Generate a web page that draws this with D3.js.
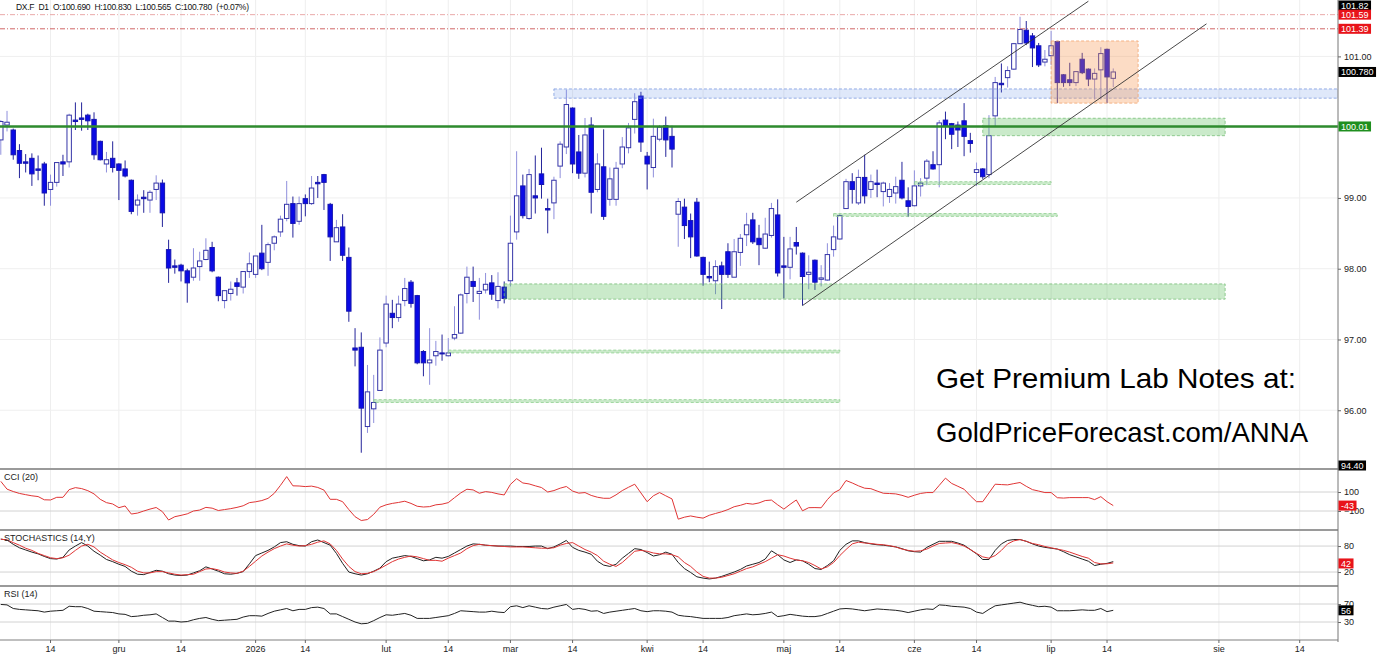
<!DOCTYPE html>
<html>
<head>
<meta charset="UTF-8">
<title>DX.F D1</title>
<script src="https://cdn.jsdelivr.net/npm/d3@7"></script>
<style>
  body { margin: 0; background: #fff; }
  svg { display: block; font-family: "Liberation Sans", Arial, sans-serif; }
  .axis path { display: none; }
  .axis line { stroke: #666; }
  .axis text { fill: #222; font-size: 9px; font-family: "Liberation Sans", Arial, sans-serif; }
</style>
</head>
<body>
<svg id="chart" width="1387" height="658"></svg>
<script>
// daily bars, 2025-11-04 .. 2026-07-15
const opens = [99.82,100.03,99.96,99.67,99.51,99.56,99.41,99.48,99.12,99.22,99.51,99.51,100.10,100.13,100.17,100.11,99.80,99.48,99.56,99.48,
  99.41,99.25,98.90,99.01,98.97,99.12,99.21,98.27,98.04,98.05,97.97,97.88,98.03,98.13,98.30,97.88,97.55,97.65,97.80,97.74,
  97.96,97.92,98.22,98.09,98.36,98.52,98.71,98.92,98.67,98.99,98.92,99.22,99.33,98.91,98.38,98.59,98.16,96.88,96.89,95.77,
  96.02,96.28,96.95,97.37,97.31,97.55,97.81,97.62,96.83,96.67,96.77,96.81,96.77,97.02,97.09,97.65,97.82,97.65,97.70,97.80,
  97.55,97.74,97.83,98.52,99.17,98.71,99.03,99.34,98.85,98.93,99.45,99.72,100.27,99.65,99.35,100.03,99.12,99.44,98.98,98.98,
  99.48,99.71,100.11,100.44,99.59,99.43,99.83,100.02,99.87,98.77,98.87,98.68,98.94,98.16,97.89,97.83,98.04,98.24,97.88,98.23,
  98.48,98.69,98.43,98.29,98.47,98.76,98.04,98.02,98.37,98.22,97.92,98.12,97.85,97.84,98.27,98.42,98.85,99.23,98.93,99.29,
  99.12,99.21,99.09,99.02,99.07,99.25,98.96,98.89,99.17,99.28,99.47,99.47,100.10,100.05,100.03,100.09,99.81,99.36,99.41,99.33,
  100.16,100.62,100.70,100.82,101.18,101.37,101.29,101.15,100.92,101.01,101.21,100.74,100.67,100.63,100.96,100.82,100.68,100.81,101.10,100.69];
const highs = [100.10,100.23,99.98,99.76,99.62,99.63,99.60,99.51,99.33,99.50,99.61,100.19,100.35,100.35,100.19,100.21,99.81,99.65,99.80,99.49,
  99.53,99.26,99.05,99.11,99.11,99.32,99.26,98.41,98.13,98.07,98.00,98.29,98.24,98.43,98.38,97.89,97.69,97.82,97.87,97.96,
  98.23,98.18,98.62,98.37,98.47,98.75,99.24,99.02,99.02,99.05,99.31,99.31,99.34,98.93,98.69,98.77,98.30,97.16,97.10,96.64,
  96.50,97.03,97.62,97.56,97.62,97.87,97.84,97.63,96.85,97.16,96.98,97.07,97.02,97.47,97.65,98.03,98.03,97.87,97.94,97.91,
  97.95,97.82,98.75,99.66,99.33,99.41,99.60,99.71,98.99,99.30,99.80,100.53,100.28,99.89,100.13,100.14,99.63,99.97,99.43,99.51,
  99.86,100.06,100.48,100.50,99.65,100.12,100.03,100.15,100.02,99.00,98.99,98.78,99.00,98.17,98.10,98.12,98.10,98.36,98.42,98.49,
  98.79,98.79,98.62,98.72,98.93,98.98,98.45,98.45,98.59,98.23,98.19,98.13,98.05,98.36,98.61,98.77,99.27,99.35,99.40,99.61,
  99.33,99.40,99.23,99.21,99.30,99.51,99.15,99.39,99.28,99.55,99.66,100.10,100.22,100.06,100.08,100.34,99.92,99.50,99.42,100.17,
  100.71,100.90,100.86,101.19,101.56,101.50,101.33,101.19,101.09,101.36,101.22,100.75,100.91,100.79,101.05,100.83,100.83,101.13,101.11,100.83];
const lows = [99.61,99.94,99.54,99.28,99.36,99.17,99.25,98.89,98.89,99.16,99.31,99.43,99.96,99.95,99.96,99.54,99.53,99.36,99.36,98.97,
  99.29,98.77,98.75,98.79,98.79,98.97,98.59,97.80,97.93,97.82,97.52,97.83,97.83,98.12,97.95,97.54,97.44,97.55,97.62,97.65,
  97.87,97.87,97.98,97.90,98.26,98.45,98.67,98.44,98.62,98.74,98.90,99.00,98.83,98.11,98.38,98.11,97.25,96.62,95.40,95.68,
  95.82,96.28,96.89,97.16,97.25,97.47,97.45,96.65,96.48,96.36,96.63,96.70,96.76,96.99,97.08,97.51,97.53,97.28,97.65,97.56,
  97.44,97.51,97.75,98.41,98.71,98.69,98.78,98.99,98.50,98.70,99.28,99.62,99.35,99.27,99.29,98.78,99.08,98.69,98.89,98.89,
  99.42,99.63,99.91,99.65,99.12,99.29,99.80,99.58,99.43,98.31,98.42,98.15,98.17,97.76,97.81,97.64,97.43,97.87,97.88,98.04,
  98.32,98.35,98.05,98.28,98.44,97.89,97.58,97.85,98.20,97.48,97.71,97.70,97.75,97.83,98.17,98.41,98.85,98.92,98.90,98.92,
  99.00,99.01,98.88,98.93,98.92,98.98,98.73,98.88,99.02,99.18,99.40,99.15,99.83,99.69,99.72,99.59,99.64,99.17,99.27,99.28,
  100.01,100.49,100.56,100.81,101.18,101.16,100.85,100.85,100.86,100.88,100.34,100.57,100.58,100.58,100.75,100.58,100.39,100.39,100.34,100.565];
const closes = [100.08,100.07,99.61,99.49,99.49,99.34,99.39,99.07,99.22,99.50,99.48,100.17,100.08,100.11,100.09,99.61,99.54,99.54,99.43,99.39,
  99.31,98.81,98.97,98.99,99.08,99.21,98.79,98.01,98.02,97.97,97.80,98.01,98.11,98.26,97.97,97.62,97.69,97.71,97.75,97.96,
  98.07,98.18,98.00,98.34,98.45,98.70,98.91,98.64,98.92,98.92,99.14,99.20,99.22,98.45,98.58,98.19,97.40,96.85,96.03,96.26,
  96.11,96.85,97.50,97.31,97.50,97.72,97.51,96.67,96.67,96.71,96.83,96.80,96.81,97.07,97.63,97.88,97.75,97.68,97.78,97.64,
  97.75,97.58,98.36,99.03,98.75,99.33,99.00,99.19,98.83,99.25,99.76,100.32,99.48,99.35,99.89,99.08,99.48,98.74,99.27,99.42,
  99.72,99.99,100.36,99.79,99.48,99.87,100.00,99.82,99.69,98.95,98.61,98.45,98.18,97.92,97.87,98.03,97.92,97.92,98.24,98.43,
  98.62,98.38,98.34,98.49,98.85,97.94,98.02,98.28,98.32,97.89,97.95,97.81,97.87,98.20,98.45,98.75,99.23,99.12,99.29,99.03,
  99.23,99.19,99.21,99.12,99.16,99.00,98.88,99.17,99.21,99.52,99.41,100.06,100.02,99.90,99.96,99.87,99.77,99.40,99.30,99.88,
  100.63,100.60,100.80,101.18,101.38,101.19,101.12,100.88,100.96,101.15,100.63,100.63,100.63,100.785,100.77,100.68,100.76,101.04,100.71,100.78];

// indicators, one value per bar
const cci = [212,130,105,85,72,60,52,18,16,44,44,125,146,136,114,80,23,-12,-26,-65,
  -47,-132,-122,-100,-80,-63,-107,-195,-160,-146,-130,-100,-90,-62,-70,-95,-85,-75,-62,-45,
  -12,-3,10,33,86,170,262,165,163,157,162,148,120,23,23,-2,-85,-160,-200,-190,
  -135,-60,-35,-20,-10,3,-20,-50,-58,-54,-35,-28,-12,40,90,129,122,87,104,96,
  80,69,180,240,195,185,165,147,100,115,140,158,110,88,94,64,45,34,34,70,
  115,150,182,90,-2,60,94,60,27,-186,-165,-152,-165,-175,-145,-126,-108,-85,-55,-40,
  -20,-28,-15,10,15,-35,-80,-30,16,-98,-65,-64,-66,20,90,125,221,195,165,140,
  135,110,87,84,80,65,44,66,85,94,94,170,246,190,160,129,60,-2,-2,90,
  182,178,175,188,200,160,125,110,94,94,40,36,41,41,41,41,20,51,-2,-43];
const stochK = [96,94,84,76,71,66,62,56,51,50,54,71,80,88,80,68,59,49,44,38,
  33,22,15,14,19,24,22,16,13,12,13,18,23,32,27,22,16,15,17,21,
  39,58,64,70,78,88,90,84,81,80,90,94,88,82,63,40,20,16,13,16,
  22,29,44,52,55,58,56,51,46,48,54,52,56,64,72,80,85,84,82,81,
  80,80,80,79,79,79,80,80,74,78,85,93,77,70,66,61,45,36,33,38,
  52,63,74,72,65,57,60,66,61,42,28,19,9,6,4,6,10,15,20,26,
  34,38,42,50,69,60,48,42,48,46,38,28,26,35,46,70,84,92,92,88,
  85,83,82,80,78,74,69,67,66,77,84,91,91,91,87,82,72,62,49,49,
  70,85,93,95,95,91,85,80,77,75,73,67,60,55,50,45,35,38,40,44];
const stochD = [96,94,88,82,75,70,63,58,53,51,53,59,70,80,84,78,66,57,48,42,
  37,31,22,18,18,21,21,18,15,13,14,15,21,27,28,25,20,18,17,22,
  33,45,57,66,74,80,85,82,80,81,84,89,92,85,70,50,33,21,16,17,
  21,28,36,44,50,54,57,55,51,47,47,45,52,58,64,74,81,84,82,81,
  80,79,78,78,78,77,76,75,75,76,82,86,88,80,72,66,58,45,38,33,
  42,55,68,70,68,64,62,62,60,55,42,33,20,10,6,6,8,12,16,22,
  28,32,38,44,52,60,57,52,48,46,42,35,27,32,42,58,72,85,89,87,
  86,84,83,81,78,73,70,68,69,73,80,86,87,88,85,80,72,63,55,52,
  58,70,85,92,95,91,86,83,79,76,73,70,66,61,56,52,42,39,39,41];
const rsi = [69,68,60,58,57,56,55,52,54,55,56,65,64,64,60,54,53,52,51,48,
  47,42,43,45,46,48,40,32,32,30,31,35,38,40,36,33,34,35,36,41,
  44,44,43,49,54,57,60,55,58,58,62,63,60,48,48,42,36,30,26,27,
  33,40,46,45,47,49,45,38,38,38,40,42,44,49,55,54,53,52,52,54,
  52,51,64,66,62,66,63,60,59,63,66,69,58,60,58,54,55,49,52,54,
  56,58,60,55,53,55,55,54,52,45,43,42,40,38,38,38,38,40,44,46,
  48,46,47,49,52,42,44,47,45,43,42,42,44,49,54,59,60,59,57,55,
  57,59,58,57,56,54,51,54,57,59,58,68,67,65,64,63,60,52,49,58,
  66,68,70,72,74,70,67,64,65,63,55,55,55,56,57,56,56,60,53,56];

// time axis labels (Polish month names)
const tickDates = ["2025-11-14","2025-12-01","2025-12-14","2026-01-01","2026-01-14","2026-02-01","2026-02-14",
  "2026-03-01","2026-03-14","2026-04-01","2026-04-14","2026-05-01","2026-05-14","2026-06-01","2026-06-14",
  "2026-07-01","2026-07-14","2026-08-01","2026-08-14"];
const tickLabels = ["14","gru","14","2026","14","lut","14","mar","14","kwi","14","maj","14","cze","14","lip","14","sie","14"];
const priceTicks = [101, 99, 98, 97, 96];
const priceGrid = [101, 100, 99, 98, 97, 96];

// drawn levels and zones (bar index, price)
const redLevels = [101.59, 101.39];
const greenLevel = 100.01;
const zoneStart = [89, 158, 81];
const zoneEnd = [215, 196, 196];
const zoneLow = [100.41, 99.88, 97.57];
const zoneHigh = [100.54, 100.126, 97.785];
const zoneKind = ["blue", "green", "green"];
const thinStart = [147, 134, 72, 60];
const thinEnd = [169, 170, 135, 135];
const thinLevel = [99.21, 98.76, 96.83, 96.13];
const boxStart = 169, boxEnd = 183, boxLow = 100.34, boxHigh = 101.218;
const channelUpper = [[128, 98.94], [175, 101.78]];
const channelLower = [[129, 97.48], [194, 101.46]];

// right-hand value tags
const tagValues = [101.82, 101.59, 101.39, 100.78, 100.01, 94.40];
const tagText = ["101.82", "101.59", "101.39", "100.780", "100.01", "94.40"];
const tagKind = ["black", "red", "red", "black", "green", "black"];

const W = 1387, plotR = 1338;
const mainTop = 0, mainBot = 469, cciTop = 469, cciBot = 530, stTop = 530, stBot = 586, rsiTop = 586, rsiBot = 640;
const tagColor = {black: "#000", red: "#e8141a", green: "#1f8f1f"};

const parse = d3.utcParse("%Y-%m-%d"), fmt = d3.utcFormat("%Y-%m-%d");
const holidays = ["2025-12-25", "2026-01-01"];
const tradingDays = d3.utcDay.range(parse("2025-11-04"), parse("2026-07-16"))
  .filter(d => d.getUTCDay() % 6 !== 0 && !holidays.includes(fmt(d)));
const futureDays = d3.utcDay.range(parse("2026-07-16"), parse("2026-08-21"));
const dates = tradingDays.concat(futureDays).map(fmt);

const x = d3.scaleBand().domain(dates).range([-2.3, 1340.1]).padding(0);
const xc = i => x(dates[i]) + x.bandwidth() / 2;
const y = d3.scaleLinear().domain([95.17, 101.797]).range([mainBot, mainTop]);
const yCci = d3.scaleLinear().domain([-100, 100]).range([511, 492]);
const ySt = d3.scaleLinear().domain([0, 100]).range([580.7, 537.4]);
const yRsi = d3.scaleLinear().domain([0, 100]).range([635.5, 590.5]);

const svg = d3.select("#chart");
const defs = svg.append("defs");
[["clipMain", mainTop, mainBot], ["clipCci", cciTop, cciBot], ["clipSt", stTop, stBot], ["clipRsi", rsiTop, rsiBot]]
  .forEach(([id, t, b]) => defs.append("clipPath").attr("id", id).append("rect")
    .attr("x", 0).attr("y", t).attr("width", plotR).attr("height", b - t));

// first bar on or after each label date
const tickPos = tickDates.map(t => dates.find(d => d >= t));

// vertical grid
svg.append("g").selectAll("line").data(tickPos).join("line")
  .attr("x1", d => x(d) + x.bandwidth() / 2).attr("x2", d => x(d) + x.bandwidth() / 2)
  .attr("y1", 0).attr("y2", rsiBot).attr("stroke", "#eeeeee");

const main = svg.append("g").attr("clip-path", "url(#clipMain)");
main.selectAll("line.hg").data(priceGrid).join("line").attr("class", "hg")
  .attr("x1", 0).attr("x2", plotR).attr("y1", d => y(d)).attr("y2", d => y(d)).attr("stroke", "#efefef");

// candles
const bars = d3.range(opens.length).map(i => ({i, o: opens[i], h: highs[i], l: lows[i], c: closes[i], up: closes[i] >= opens[i]}));
const bw = 4.4;
const cg = main.append("g");
cg.selectAll("line").data(bars).join("line")
  .attr("x1", d => xc(d.i)).attr("x2", d => xc(d.i))
  .attr("y1", d => y(d.h)).attr("y2", d => y(d.l))
  .attr("stroke", d => d.up ? "#8f8fdc" : "#24249a").attr("stroke-width", 1);
cg.selectAll("rect").data(bars).join("rect")
  .attr("x", d => xc(d.i) - bw / 2).attr("width", bw)
  .attr("y", d => y(Math.max(d.o, d.c)))
  .attr("height", d => Math.max(1, Math.abs(y(d.o) - y(d.c))))
  .attr("fill", d => d.up ? "#fff" : "#0a0ae6")
  .attr("stroke", d => d.up ? "#3535a8" : "#1515b0").attr("stroke-width", 1);

// zones
const zones = zoneStart.map((s, k) => ({s, e: zoneEnd[k], lo: zoneLow[k], hi: zoneHigh[k], kind: zoneKind[k]}));
main.selectAll("rect.zone").data(zones).join("rect").attr("class", "zone")
  .attr("x", d => xc(d.s)).attr("width", d => xc(d.e) - xc(d.s) + x.bandwidth())
  .attr("y", d => y(d.hi)).attr("height", d => y(d.lo) - y(d.hi))
  .attr("fill", d => d.kind === "blue" ? "rgba(110,150,230,0.22)" : "rgba(80,185,80,0.30)")
  .attr("stroke", d => d.kind === "blue" ? "#7d9be0" : "#79bf79")
  .attr("stroke-dasharray", "3,2").attr("stroke-width", 0.8);
const thin = thinStart.map((s, k) => ({s, e: thinEnd[k], v: thinLevel[k]}));
main.selectAll("rect.thin").data(thin).join("rect").attr("class", "thin")
  .attr("x", d => xc(d.s)).attr("width", d => xc(d.e) - xc(d.s))
  .attr("y", d => y(d.v + 0.02)).attr("height", d => y(d.v - 0.02) - y(d.v + 0.02))
  .attr("fill", "rgba(80,185,80,0.30)").attr("stroke", "#8fcf8f")
  .attr("stroke-dasharray", "3,2").attr("stroke-width", 0.8);
main.append("rect")
  .attr("x", xc(boxStart)).attr("width", xc(boxEnd) - xc(boxStart))
  .attr("y", y(boxHigh)).attr("height", y(boxLow) - y(boxHigh))
  .attr("fill", "rgba(245,150,80,0.33)").attr("stroke", "#f2a46e")
  .attr("stroke-dasharray", "3,2").attr("stroke-width", 0.8);

// levels
main.selectAll("line.red").data(redLevels).join("line").attr("class", "red")
  .attr("x1", 0).attr("x2", plotR).attr("y1", d => y(d)).attr("y2", d => y(d))
  .attr("stroke", (d, k) => k === 0 ? "#e8a0a0" : "#cc5555").attr("stroke-width", 0.9)
  .attr("stroke-dasharray", "5,2,1,2");
main.append("line").attr("x1", 0).attr("x2", plotR).attr("y1", y(greenLevel)).attr("y2", y(greenLevel))
  .attr("stroke", "#2e8b2e").attr("stroke-width", 2.4);

// trend channel
main.selectAll("line.ch").data([channelUpper, channelLower]).join("line").attr("class", "ch")
  .attr("x1", d => xc(d[0][0])).attr("y1", d => y(d[0][1]))
  .attr("x2", d => xc(d[1][0])).attr("y2", d => y(d[1][1]))
  .attr("stroke", "#333").attr("stroke-width", 0.9);

// promo text
svg.append("text").attr("x", 936).attr("y", 388).attr("font-size", 28).attr("fill", "#000")
  .attr("textLength", 360).attr("lengthAdjust", "spacingAndGlyphs").text("Get Premium Lab Notes at:");
svg.append("text").attr("x", 936).attr("y", 442).attr("font-size", 28).attr("fill", "#000")
  .attr("textLength", 372).attr("lengthAdjust", "spacingAndGlyphs").text("GoldPriceForecast.com/ANNA");

// header
const last = opens.length - 1;
const f3 = d3.format(".3f");
const chg = (closes[last] - closes[last - 1]) / closes[last - 1] * 100;
svg.append("text").attr("x", 16).attr("y", 10).attr("font-size", 8.5).attr("fill", "#111")
  .attr("textLength", 233).attr("lengthAdjust", "spacing")
  .style("white-space", "pre")
  .text(`DX.F  D1  O:${f3(opens[last])}  H:${f3(highs[last])}  L:${f3(lows[last])}  C:${f3(closes[last])}  (${d3.format("+.2f")(chg)}%)`);

// indicator panels
function panel(clip, top, gridVals, yS, series, label) {
  const g = svg.append("g");
  g.selectAll("line.g").data(gridVals).join("line").attr("class", "g")
    .attr("x1", 0).attr("x2", plotR).attr("y1", d => yS(d)).attr("y2", d => yS(d)).attr("stroke", "#d2d2d2");
  const pg = g.append("g").attr("clip-path", `url(#${clip})`);
  series.forEach(([vals, color]) => {
    pg.append("path").datum(vals)
      .attr("d", d3.line().x((v, i) => xc(i)).y(v => yS(v)))
      .attr("fill", "none").attr("stroke", color).attr("stroke-width", 1);
  });
  g.append("text").attr("x", 4).attr("y", top + 11).attr("font-size", 9).attr("fill", "#222").text(label);
  g.append("g").attr("class", "axis").attr("transform", `translate(${plotR},0)`)
    .call(d3.axisRight(yS).tickValues(gridVals).tickSize(3).tickFormat(d3.format("d")));
}
panel("clipCci", cciTop, [100, -100], yCci, [[cci, "#e03535"]], "CCI (20)");
panel("clipSt", stTop, [80, 20], ySt, [[stochK, "#222"], [stochD, "#e03535"]], "STOCHASTICS (14,Y)");
panel("clipRsi", rsiTop, [70, 30], yRsi, [[rsi, "#222"]], "RSI (14)");

// separators and frame
svg.selectAll("line.sep").data([cciTop, stTop, rsiTop]).join("line").attr("class", "sep")
  .attr("x1", 0).attr("x2", plotR).attr("y1", d => d).attr("y2", d => d)
  .attr("stroke", "#9a9a9a").attr("stroke-width", 1.8);
svg.append("line").attr("x1", 0).attr("x2", plotR).attr("y1", rsiBot).attr("y2", rsiBot)
  .attr("stroke", "#aaa").attr("stroke-width", 1.5);
svg.append("line").attr("x1", plotR).attr("x2", plotR).attr("y1", 0).attr("y2", rsiBot + 2)
  .attr("stroke", "#777").attr("stroke-width", 1);

// axes
svg.append("g").attr("class", "axis").attr("transform", `translate(${plotR},0)`)
  .call(d3.axisRight(y).tickValues(priceTicks).tickSize(3).tickFormat(d3.format(".2f")));
const lab = new Map(tickPos.map((d, k) => [d, tickLabels[k]]));
svg.append("g").attr("class", "axis").attr("transform", `translate(0,${rsiBot})`)
  .call(d3.axisBottom(x).tickValues(tickPos).tickSize(3).tickFormat(d => lab.get(d)));

// value tags
function tag(yPos, text, color) {
  const g = svg.append("g");
  const t = g.append("text").attr("x", plotR + 3).attr("y", yPos + 3.3).attr("font-size", 9)
    .attr("fill", "#fff").text(text);
  const w = t.node().getComputedTextLength();
  g.insert("rect", "text").attr("x", plotR + 0.5).attr("y", yPos - 5).attr("width", w + 5).attr("height", 10)
    .attr("fill", color);
}
tagValues.forEach((v, k) => tag(Math.max(5.5, Math.min(465.5, y(v))), tagText[k], tagColor[tagKind[k]]));
tag(yCci(cci[last]), String(cci[last]), tagColor.red);
tag(ySt(stochD[last]) + 0.5, String(Math.round(stochD[last] + 1)), tagColor.red);
tag(yRsi(rsi[last]), String(rsi[last]), tagColor.black);
</script>
</body>
</html>
